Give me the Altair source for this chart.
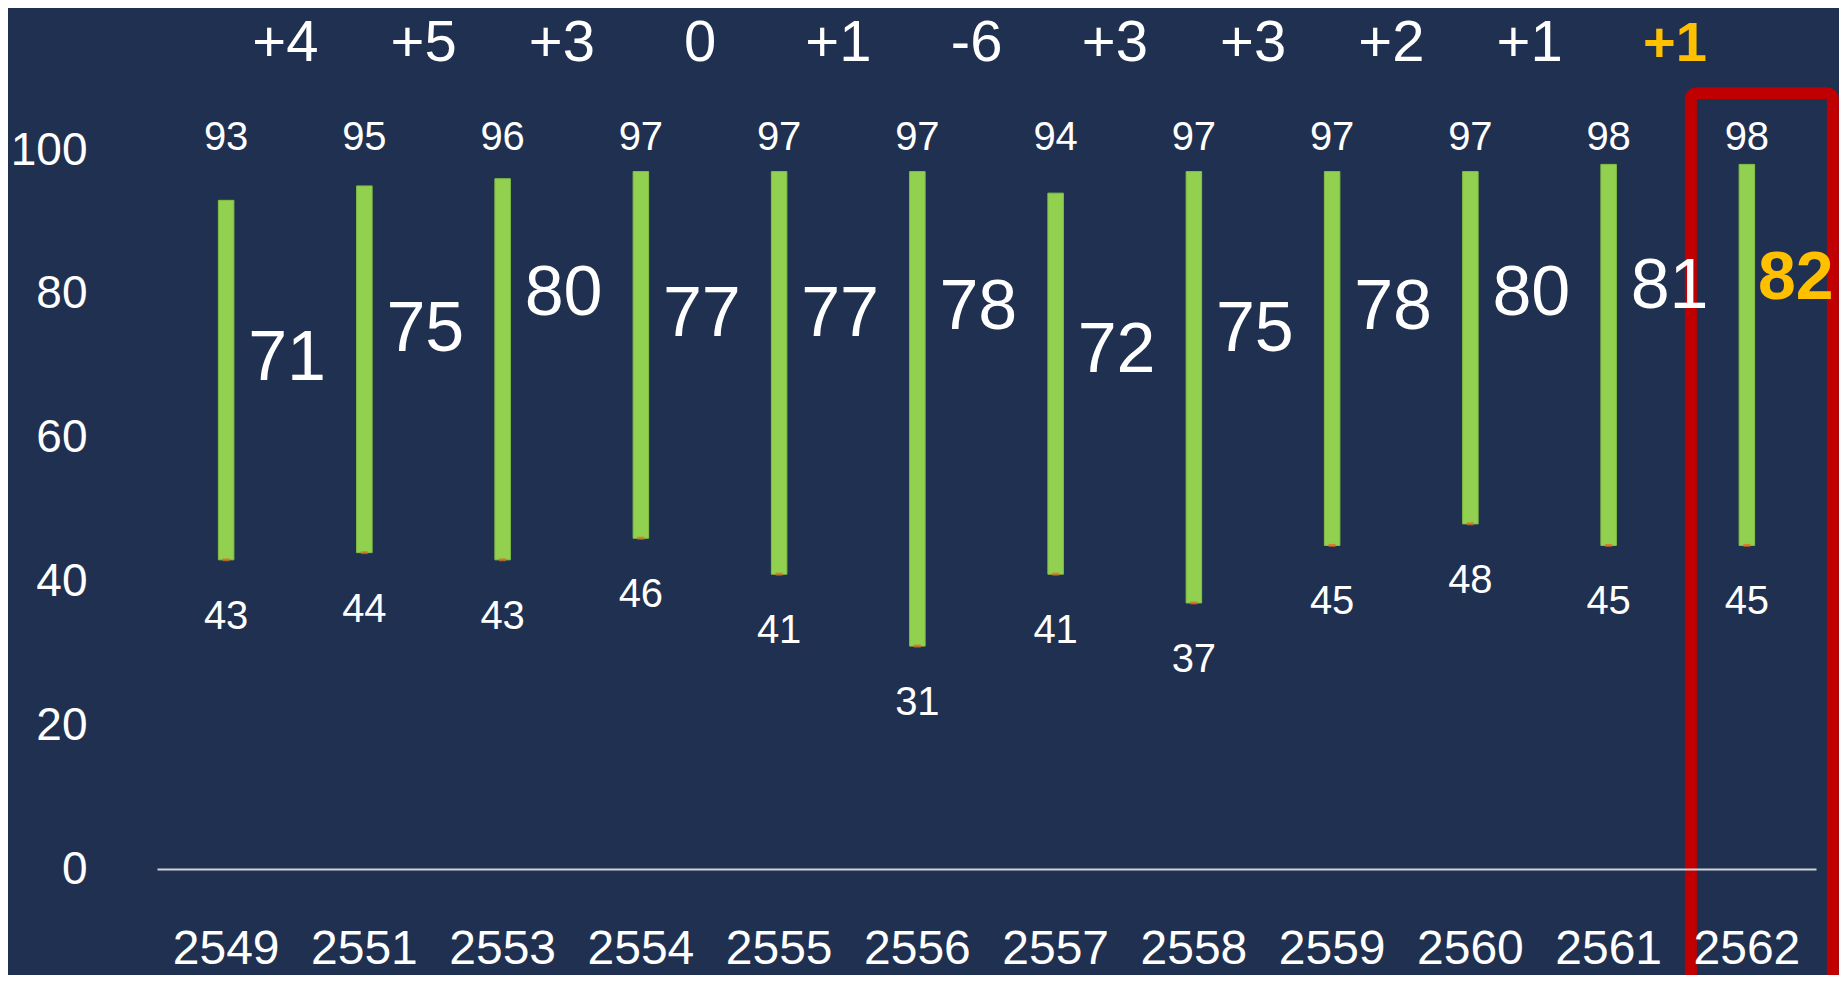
import altair as alt
import pandas as pd

years = ["2549", "2551", "2553", "2554", "2555", "2556", "2557", "2558", "2559", "2560", "2561", "2562"]
high = [93, 95, 96, 97, 97, 97, 94, 97, 97, 97, 98, 98]
low = [43, 44, 43, 46, 41, 31, 41, 37, 45, 48, 45, 45]
avg = [71, 75, 80, 77, 77, 78, 72, 75, 78, 80, 81, 82]
change = ["", "+4", "+5", "+3", "0", "+1", "-6", "+3", "+3", "+2", "+1", "+1"]
highlight_year = "2562"

df = pd.DataFrame({"year": years, "high": high, "low": low, "avg": avg, "change": change})

FONT = "Liberation Sans"
BG = "#1f3050"
WHITE = "#ffffff"
YELLOW = "#ffc000"

x = alt.X("year:N", sort=years,
          scale=alt.Scale(paddingInner=0, paddingOuter=0),
          axis=alt.Axis(title=None, labelAngle=0, labelColor=WHITE, labelFont=FONT,
                        labelFontSize=48, labelPadding=94, labelBaseline="alphabetic",
                        ticks=False, tickSize=0, domain=True, domainColor="#d0d3d8",
                        domainWidth=2, grid=False, zindex=1))
yscale = alt.Scale(domain=[0, 100], nice=False, zero=False)
y_axis = alt.Axis(title=None, values=[0, 20, 40, 60, 80, 100], labelColor=WHITE,
                  labelFont=FONT, labelFontSize=46, labelPadding=70, ticks=False,
                  tickSize=0, domain=False, grid=False, labelBaseline="middle")

base = alt.Chart(df)

bars = base.mark_bar(size=15.5, color="#92d050", stroke="#84c043", strokeWidth=1).encode(
    x=x,
    y=alt.Y("low:Q", scale=yscale, axis=y_axis),
    y2="high:Q",
)

low_marks = base.mark_tick(color="#e8641b", thickness=3, size=7, orient="horizontal").encode(
    x=x, y=alt.Y("low:Q")
)

high_labels = base.transform_calculate(label_row="101.7").mark_text(
    font=FONT, fontSize=40, color=WHITE, baseline="middle", align="center"
).encode(x=x, y=alt.Y("label_row:Q"), text="high:Q")

low_labels = base.mark_text(
    font=FONT, fontSize=40, color=WHITE, baseline="middle", align="center", dy=57
).encode(x=x, y=alt.Y("low:Q"), text="low:Q")

avg_labels = base.transform_filter(alt.datum.year != highlight_year).mark_text(
    font=FONT, fontSize=70, color=WHITE, baseline="middle", align="left", dx=22
).encode(x=x, y=alt.Y("avg:Q"), text="avg:Q")

avg_hl = base.transform_filter(alt.datum.year == highlight_year).mark_text(
    font=FONT, fontSize=68, fontWeight="bold", color=YELLOW, baseline="middle",
    align="left", dx=11
).encode(x=x, y=alt.Y("avg:Q"), text="avg:Q")

change_labels = base.transform_filter(
    (alt.datum.change != "") & (alt.datum.year != highlight_year)
).transform_calculate(row="114.7").mark_text(
    font=FONT, fontSize=58, color=WHITE, baseline="middle", align="center", dx=-79
).encode(x=x, y=alt.Y("row:Q"), text="change:N")

change_hl = base.transform_filter(alt.datum.year == highlight_year).transform_calculate(
    row="114.7"
).mark_text(
    font=FONT, fontSize=56, fontWeight="bold", color=YELLOW, baseline="middle",
    align="center", dx=-72
).encode(x=x, y=alt.Y("row:Q"), text="change:N")

box = base.transform_filter(alt.datum.year == highlight_year).transform_calculate(
    top="107.9", bottom="-30"
).mark_rect(
    width=142, xOffset=15, fill=BG, fillOpacity=0, stroke="#c00000", strokeWidth=12,
    cornerRadius=6
).encode(x=x, y=alt.Y("top:Q"), y2="bottom:Q")

chart = alt.layer(
    box, bars, low_marks, high_labels, low_labels, avg_labels, avg_hl, change_labels, change_hl
).properties(
    width=1659, height=719,
    autosize=alt.AutoSizeParams(type="none"),
    padding={"left": 149, "top": 142, "right": 23, "bottom": 106},
).configure(background=BG).configure_view(stroke=None)

chart.save("out.html", embed_options={"renderer": "svg", "actions": False})
